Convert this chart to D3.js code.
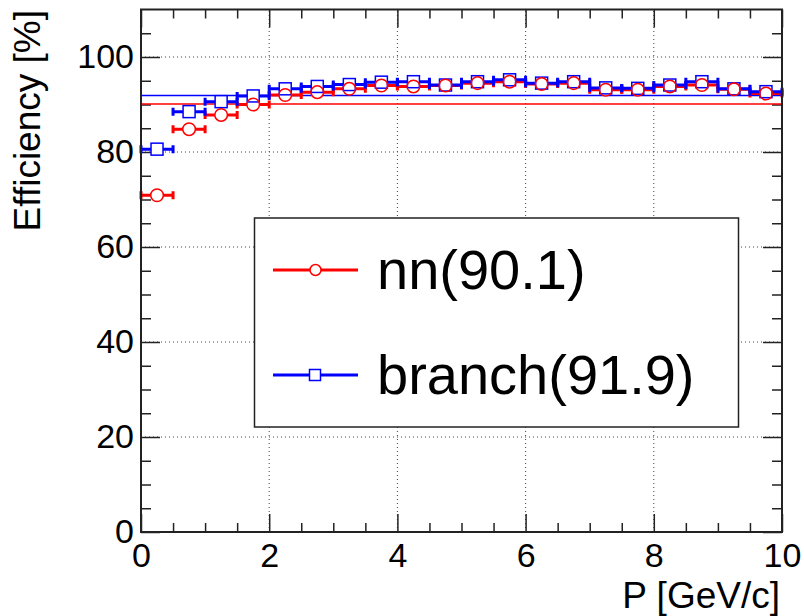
<!DOCTYPE html>
<html>
<head>
<meta charset="utf-8">
<script src="https://cdn.jsdelivr.net/npm/d3@7"></script>
<style>
  body { margin: 0; background: #fff; }
  svg { display: block; font-family: "Liberation Sans", Arial, Helvetica, sans-serif; }
</style>
</head>
<body>
<div></div>
<script>
var width = 804;
var height = 616;

// momentum bins (centre, half width)
var momentum = [0.25, 0.75, 1.25, 1.75, 2.25, 2.75, 3.25, 3.75, 4.25, 4.75,
                5.25, 5.75, 6.25, 6.75, 7.25, 7.75, 8.25, 8.75, 9.25, 9.75];
var binHalf = 0.25;

var nnEff = [70.9, 84.8, 87.8, 90.0, 92.0, 92.6, 93.3, 94.0, 93.8, 94.0,
             94.5, 94.8, 94.3, 94.5, 93.1, 93.1, 93.8, 94.1, 93.2, 92.3];
var branchEff = [80.6, 88.5, 90.6, 91.8, 93.3, 93.8, 94.2, 94.7, 94.8, 94.1,
                 94.8, 95.2, 94.5, 94.8, 93.5, 93.4, 94.1, 94.8, 93.3, 92.7];

var nnMean = 90.1;
var branchMean = 91.9;

var xTicks = [0, 2, 4, 6, 8, 10];
var xMinor = [0.5, 1, 1.5, 2.5, 3, 3.5, 4.5, 5, 5.5, 6.5, 7, 7.5, 8.5, 9, 9.5];
var yTicks = [0, 20, 40, 60, 80, 100];
var yMinor = [5, 10, 15, 25, 30, 35, 45, 50, 55, 65, 70, 75, 85, 90, 95, 105];

var series = [
  { name: "branch", label: "branch(91.9)", values: branchEff, mean: branchMean, color: "#0000ff", marker: "square" },
  { name: "nn", label: "nn(90.1)", values: nnEff, mean: nnMean, color: "#ff0000", marker: "circle" }
];

var x = d3.scaleLinear().domain([0, 10]).range([141, 782]);
var y = d3.scaleLinear().domain([0, 110]).range([532, 9.5]);

var svg = d3.select("div").append("svg")
  .attr("width", width)
  .attr("height", height);

// grid
svg.append("g").selectAll("line")
  .data(xTicks.slice(1, -1))
  .enter().append("line")
  .attr("x1", function(d) { return x(d); })
  .attr("x2", function(d) { return x(d); })
  .attr("y1", y.range()[0])
  .attr("y2", y.range()[1])
  .attr("stroke", "#444")
  .attr("stroke-dasharray", "1,3");

svg.append("g").selectAll("line")
  .data(yTicks.slice(1))
  .enter().append("line")
  .attr("x1", x.range()[0])
  .attr("x2", x.range()[1])
  .attr("y1", function(d) { return y(d); })
  .attr("y2", function(d) { return y(d); })
  .attr("stroke", "#444")
  .attr("stroke-dasharray", "1,3");

// axes, ticks pointing into the frame
function styleAxis(g) {
  g.select(".domain").remove();
  g.selectAll(".tick line").attr("stroke", "#222").attr("stroke-width", 1.5);
  g.selectAll(".tick text").attr("font-size", 34).attr("fill", "#000")
    .attr("font-family", "Liberation Sans, Arial, sans-serif");
}

svg.append("g").attr("transform", "translate(0," + y(0) + ")")
  .call(d3.axisBottom(x).tickValues(xTicks).tickSize(-18).tickPadding(11).tickFormat(d3.format("d")))
  .call(styleAxis);
svg.append("g").attr("transform", "translate(0," + y(0) + ")")
  .call(d3.axisBottom(x).tickValues(xMinor).tickSize(-9).tickFormat(""))
  .call(styleAxis);
svg.append("g").attr("transform", "translate(0," + y.range()[1] + ")")
  .call(d3.axisTop(x).tickValues(xTicks).tickSize(-18).tickFormat(""))
  .call(styleAxis);
svg.append("g").attr("transform", "translate(0," + y.range()[1] + ")")
  .call(d3.axisTop(x).tickValues(xMinor).tickSize(-9).tickFormat(""))
  .call(styleAxis);

svg.append("g").attr("transform", "translate(" + x(0) + ",0)")
  .call(d3.axisLeft(y).tickValues(yTicks).tickSize(-19).tickPadding(7).tickFormat(d3.format("d")))
  .call(styleAxis);
svg.append("g").attr("transform", "translate(" + x(0) + ",0)")
  .call(d3.axisLeft(y).tickValues(yMinor).tickSize(-10).tickFormat(""))
  .call(styleAxis);
svg.append("g").attr("transform", "translate(" + x(10) + ",0)")
  .call(d3.axisRight(y).tickValues(yTicks).tickSize(-19).tickFormat(""))
  .call(styleAxis);
svg.append("g").attr("transform", "translate(" + x(10) + ",0)")
  .call(d3.axisRight(y).tickValues(yMinor).tickSize(-10).tickFormat(""))
  .call(styleAxis);

// mean lines
svg.append("g").selectAll("line")
  .data(series)
  .enter().append("line")
  .attr("x1", x(0))
  .attr("x2", x(10))
  .attr("y1", function(d) { return y(d.mean); })
  .attr("y2", function(d) { return y(d.mean); })
  .attr("stroke", function(d) { return d.color; })
  .attr("stroke-width", 1.5);

// error bars
var bars = svg.append("g").selectAll("g")
  .data(series.slice().reverse())
  .enter().append("g")
  .attr("stroke", function(d) { return d.color; })
  .attr("stroke-width", 3);

bars.selectAll("path")
  .data(function(d) { return d.values.map(function(v, i) { return { p: momentum[i], v: v }; }); })
  .enter().append("path")
  .attr("fill", "none")
  .attr("d", function(d) {
    var x0 = x(d.p - binHalf), x1 = x(d.p + binHalf), yy = y(d.v);
    return "M" + x0 + "," + yy + "H" + x1 +
      "M" + x0 + "," + (yy - 4) + "V" + (yy + 4) +
      "M" + x1 + "," + (yy - 4) + "V" + (yy + 4);
  });

// markers: first a white knock-out so bars stop at the marker, then outlines
function drawMarkers(g, s, fill, stroke) {
  var pts = s.values.map(function(v, i) { return { p: momentum[i], v: v }; });
  if (s.marker === "square") {
    g.selectAll("rect").data(pts).enter().append("rect")
      .attr("x", function(d) { return x(d.p) - 6; })
      .attr("y", function(d) { return y(d.v) - 6; })
      .attr("width", 12).attr("height", 12)
      .attr("fill", fill).attr("stroke", stroke).attr("stroke-width", 1.5);
  } else {
    g.selectAll("circle").data(pts).enter().append("circle")
      .attr("cx", function(d) { return x(d.p); })
      .attr("cy", function(d) { return y(d.v); })
      .attr("r", 6.3)
      .attr("fill", fill).attr("stroke", stroke).attr("stroke-width", 1.5);
  }
}

series.forEach(function(s) { drawMarkers(svg.append("g"), s, "#fff", "none"); });
series.forEach(function(s) { drawMarkers(svg.append("g"), s, "none", s.color); });

// frame
svg.append("rect")
  .attr("x", x(0)).attr("y", y.range()[1])
  .attr("width", x(10) - x(0)).attr("height", y(0) - y.range()[1])
  .attr("fill", "none").attr("stroke", "#222").attr("stroke-width", 2);

// axis titles
svg.append("text")
  .attr("x", 780).attr("y", 608)
  .attr("text-anchor", "end")
  .attr("font-size", 37)
  .text("P [GeV/c]");

svg.append("text")
  .attr("transform", "translate(40,10) rotate(-90)")
  .attr("text-anchor", "end")
  .attr("font-size", 37)
  .text("Efficiency [%]");

// legend
var legend = svg.append("g");
legend.append("rect")
  .attr("x", 254.5).attr("y", 218)
  .attr("width", 484).attr("height", 209)
  .attr("fill", "#fff").attr("stroke", "#222").attr("stroke-width", 1.5);

var entry = legend.selectAll(".entry")
  .data(series.slice().reverse())
  .enter().append("g")
  .attr("class", "entry")
  .attr("transform", function(d, i) { return "translate(0," + (270 + i * 105) + ")"; });

entry.append("line")
  .attr("x1", 273).attr("x2", 358)
  .attr("stroke", function(d) { return d.color; })
  .attr("stroke-width", 3);

entry.each(function(s) {
  if (s.marker === "square") {
    d3.select(this).append("rect")
      .attr("x", 309.5).attr("y", -5.5).attr("width", 11).attr("height", 11)
      .attr("fill", "#fff").attr("stroke", s.color).attr("stroke-width", 1.5);
  } else {
    d3.select(this).append("circle")
      .attr("cx", 315.5).attr("r", 5.5)
      .attr("fill", "#fff").attr("stroke", s.color).attr("stroke-width", 1.5);
  }
});

entry.append("text")
  .attr("x", 377).attr("y", 19)
  .attr("font-size", 56)
  .text(function(d) { return d.label; });
</script>
</body>
</html>
